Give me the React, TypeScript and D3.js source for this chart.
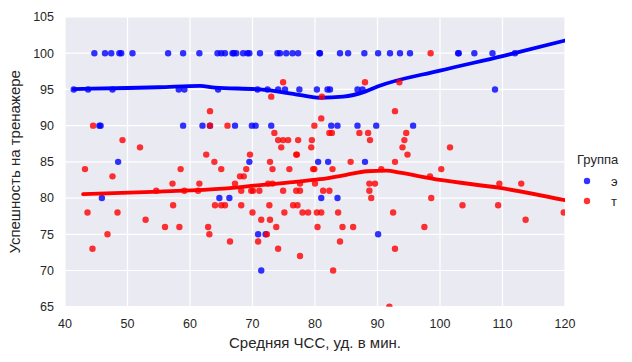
import * as d3 from "d3";

// группа "э": [ЧСС, успешность]
const groupE: [number, number][] = [
  [44.7, 100], [46.4, 100], [47.4, 100], [48.7, 100], [49.0, 100], [50.8, 100],
  [56.5, 100], [58.9, 100], [61.5, 100], [64.4, 100], [65.0, 100], [65.6, 100],
  [66.8, 100], [67.0, 100], [67.4, 100], [68.5, 100], [69.2, 100], [69.5, 100],
  [71.2, 100], [74.0, 100], [74.4, 100], [75.4, 100], [76.4, 100], [77.3, 100],
  [80.7, 100], [80.8, 100], [84.0, 100], [85.3, 100], [87.9, 100], [90.1, 100],
  [92.0, 100], [93.6, 100], [95.2, 100], [102.9, 100], [103.0, 100], [105.5, 100],
  [108.4, 100], [112.0, 100],
  [41.4, 95], [43.7, 95], [47.6, 95], [58.2, 95], [59.1, 95], [64.5, 95],
  [70.8, 95], [72.4, 95], [74.1, 95], [75.2, 95], [77.5, 95], [80.3, 95],
  [82.0, 95], [82.4, 95], [86.8, 95], [87.6, 95], [108.8, 95],
  [45.5, 90], [45.7, 90], [58.9, 90], [62.0, 90], [63.2, 90], [67.2, 90],
  [69.9, 90], [70.5, 90], [73.0, 90], [82.6, 90], [83.6, 90], [86.8, 90],
  [89.8, 90], [95.7, 90],
  [48.5, 85], [69.5, 85], [80.5, 85], [82.1, 85], [88.0, 85],
  [45.9, 80], [64.7, 80], [66.3, 80], [81.0, 80], [83.6, 80],
  [70.9, 75], [72.1, 75], [90.1, 75],
  [71.4, 70],
];

// группа "т"
const groupT: [number, number][] = [
  [98.5, 100],
  [74.9, 96], [88.0, 96], [93.5, 96],
  [73.0, 94], [81.1, 94],
  [63.2, 92], [92.8, 92],
  [81.0, 91],
  [44.5, 90], [63.2, 90], [66.0, 90], [79.9, 90],
  [73.5, 89], [82.3, 89], [82.7, 89], [87.1, 89], [88.5, 89], [94.6, 89],
  [49.2, 88], [74.1, 88], [74.9, 88], [75.7, 88], [77.3, 88], [79.5, 88], [88.8, 88], [94.3, 88],
  [52.0, 87], [74.6, 87], [79.4, 87], [94.0, 87], [101.6, 87],
  [62.6, 86], [69.6, 86], [77.0, 86], [77.1, 86], [94.8, 86],
  [63.9, 85], [72.8, 85], [85.7, 85], [92.8, 85],
  [43.2, 84], [58.5, 84], [65.0, 84], [69.0, 84], [73.2, 84], [75.9, 84],
  [79.7, 84], [79.9, 84], [82.8, 84], [90.6, 84], [100.2, 84],
  [47.6, 83], [68.0, 83], [68.6, 83], [98.4, 83],
  [57.2, 82], [61.5, 82], [67.2, 82], [72.5, 82], [73.2, 82], [77.6, 82],
  [80.0, 82], [88.7, 82], [89.6, 82], [109.5, 82], [113.0, 82],
  [54.6, 81], [59.1, 81], [61.3, 81], [68.2, 81], [69.8, 81], [70.1, 81],
  [71.1, 81], [74.9, 81], [77.0, 81], [77.6, 81], [81.3, 81], [82.3, 81], [88.7, 81],
  [89.0, 80], [98.6, 80],
  [57.3, 79], [64.0, 79], [65.0, 79], [65.6, 79], [68.2, 79], [72.7, 79],
  [76.5, 79], [77.2, 79], [103.6, 79], [109.3, 79],
  [43.6, 78], [48.4, 78], [70.0, 78], [75.1, 78], [78.0, 78], [78.9, 78],
  [80.3, 78], [81.0, 78], [83.7, 78], [92.5, 78], [119.8, 78],
  [52.9, 77], [71.4, 77], [72.8, 77], [113.7, 77],
  [56.0, 76], [58.3, 76], [62.9, 76], [73.8, 76], [80.4, 76], [84.4, 76], [86.1, 76], [97.5, 76],
  [46.8, 75], [63.1, 75], [72.3, 75],
  [66.4, 74], [70.9, 74], [84.0, 74],
  [44.4, 73], [74.1, 73], [92.8, 73],
  [77.6, 72],
  [82.9, 70],
  [91.9, 65],
];

// сглаженные (lowess) кривые
const lowessE: [number, number][] = [
  [41.4, 95.05], [50, 95.2], [55, 95.3], [61.6, 95.5], [64, 95.25], [71.2, 95.0],
  [76.5, 94.4], [80.8, 93.85], [84.5, 94.0], [88, 94.7], [90, 95.4],
  [100, 97.6], [110, 99.6], [120, 101.75],
];
const lowessT: [number, number][] = [
  [42.9, 80.55], [55.2, 80.9], [65.3, 81.3], [71.2, 81.8], [76.5, 82.2],
  [80.8, 82.6], [85, 83.2], [88.3, 83.7], [91.5, 83.8], [93.6, 83.5],
  [100, 82.5], [109.6, 81.4], [120, 79.7],
];

const xTicks = [40, 50, 60, 70, 80, 90, 100, 110, 120];
const yTicks = [65, 70, 75, 80, 85, 90, 95, 100, 105];
const groups = ["э", "т"];
const colors = ["#0000ff", "#ff0000"];

const W = 632;
const H = 362;
const left = 65;
const right = 565;
const top = 17;
const bottom = 306.7;
const font = "'Liberation Sans', Arial, sans-serif";
const ink = "#262626";

export default function App() {
  const x = d3.scaleLinear().domain([40, 120]).range([left, right]);
  const y = d3.scaleLinear().domain([65, 105]).range([bottom, top]);
  const line = d3
    .line<[number, number]>()
    .x((d) => x(d[0]))
    .y((d) => y(d[1]))
    .curve(d3.curveMonotoneX);

  const sets = [
    { pts: groupE, fit: lowessE, color: colors[0] },
    { pts: groupT, fit: lowessT, color: colors[1] },
  ];

  return (
    <svg
      width={W}
      height={H}
      style={{ position: "absolute", left: 0, top: 0, background: "#fff" }}
      fontFamily={font}
    >
      <defs>
        <clipPath id="plot">
          <rect x={left} y={top} width={right - left} height={bottom - top} />
        </clipPath>
      </defs>
      <rect x={left} y={top} width={right - left} height={bottom - top} fill="#eaeaf2" />
      {xTicks.map((t) => (
        <line key={"gx" + t} x1={x(t)} x2={x(t)} y1={top} y2={bottom} stroke="#fff" strokeWidth={1.2} />
      ))}
      {yTicks.map((t) => (
        <line key={"gy" + t} x1={left} x2={right} y1={y(t)} y2={y(t)} stroke="#fff" strokeWidth={1.2} />
      ))}
      <g clipPath="url(#plot)">
        {sets.map((s, i) => (
          <g key={i}>
            {s.pts.map((d, j) => (
              <circle key={j} cx={x(d[0])} cy={y(d[1])} r={3.2} fill={s.color} fillOpacity={0.8} />
            ))}
            <path d={line(s.fit) ?? ""} fill="none" stroke={s.color} strokeWidth={3.8} strokeLinecap="round" />
          </g>
        ))}
      </g>
      {xTicks.map((t) => (
        <text key={"tx" + t} x={x(t)} y={328} textAnchor="middle" fontSize={12.5} fill={ink}>
          {t}
        </text>
      ))}
      {yTicks.map((t) => (
        <text key={"ty" + t} x={54} y={y(t)} dy="0.35em" textAnchor="end" fontSize={12.5} fill={ink}>
          {t}
        </text>
      ))}
      <text x={(left + right) / 2} y={347.5} textAnchor="middle" fontSize={15} fill={ink}>
        Средняя ЧСС, уд. в мин.
      </text>
      <text
        transform={`translate(19.5,${(top + bottom) / 2}) rotate(-90)`}
        textAnchor="middle"
        fontSize={15}
        fill={ink}
      >
        Успешность на тренажере
      </text>
      <g>
        <text x={577} y={164} fontSize={13} fill={ink}>
          Группа
        </text>
        {groups.map((g, i) => (
          <g key={g} transform={`translate(0,${181 + i * 20})`}>
            <circle cx={587} cy={0} r={3.2} fill={colors[i]} fillOpacity={0.8} />
            <text x={611} y={0} dy="0.35em" fontSize={13} fill={ink}>
              {g}
            </text>
          </g>
        ))}
      </g>
    </svg>
  );
}
